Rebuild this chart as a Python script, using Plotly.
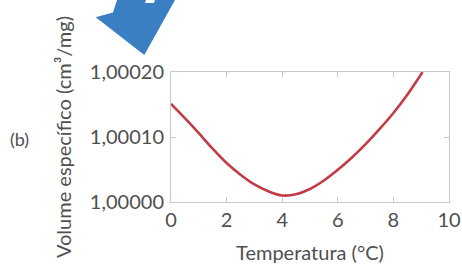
import plotly.graph_objects as go

# Data
temperatura = [0, 0.5, 1, 1.5, 2, 2.5, 3, 3.5, 4, 4.5, 5, 5.5, 6, 6.5, 7, 7.5, 8, 8.5, 9.05]
volume = [1.000151, 1.000129, 1.000106, 1.000082, 1.000060, 1.000042, 1.000027,
          1.0000165, 1.000010, 1.000012, 1.000020, 1.000033, 1.0000495, 1.000068,
          1.000089, 1.000112, 1.000137, 1.000165, 1.000200]

x_ticks = [0, 2, 4, 6, 8, 10]
y_ticks = [1.00000, 1.00010, 1.00020]
y_ticktext = ["1,00000", "1,00010", "1,00020"]

W, H = 462, 264
ML, MR, MT, MB = 171, 13, 72, 62
PW, PH = W - ML - MR, H - MT - MB

def px(xp, yp):
    """pixel -> paper coords (for decoration shapes)"""
    return (xp - ML) / PW, (H - MB - yp) / PH

def path(pts):
    s = ""
    for i, (a, b) in enumerate(pts):
        u, v = px(a, b)
        s += ("M" if i == 0 else "L") + f"{u:.4f},{v:.4f} "
    return s + "Z"

FONT = "Lato"
GRAY = "#4f4f4f"
FRAME = "#c9c9c9"

fig = go.Figure()
fig.add_trace(go.Scatter(
    x=temperatura, y=volume, mode="lines",
    line=dict(color="#c23b45", width=2.6, shape="spline", smoothing=1.0),
    hoverinfo="skip", showlegend=False,
))

fig.update_layout(
    width=W, height=H,
    margin=dict(l=ML, r=MR, t=MT, b=MB, pad=0, autoexpand=False),
    paper_bgcolor="white", plot_bgcolor="white",
    font=dict(family=FONT, color=GRAY, size=20),
    xaxis=dict(
        range=[0, 10], tickvals=x_ticks, ticks="inside", ticklen=5,
        tickcolor=FRAME, showline=True, linecolor=FRAME, linewidth=1,
        mirror="ticks", showgrid=False, zeroline=False, automargin=False,
        tickfont=dict(size=20, color=GRAY),
        title=dict(text="Temperatura (°C)", font=dict(size=20, color=GRAY), standoff=16),
    ),
    yaxis=dict(
        range=[1.0, 1.0002], tickvals=y_ticks, ticktext=y_ticktext,
        ticks="inside", ticklen=5, tickcolor=FRAME, showline=True,
        linecolor=FRAME, linewidth=1, mirror="ticks", showgrid=False,
        zeroline=False, automargin=False, ticklabelstandoff=2,
        tickfont=dict(size=20, color=GRAY),
        title=dict(text="Volume específico (cm³/mg)", font=dict(size=20, color=GRAY), standoff=12),
    ),
    shapes=[
        dict(type="path", xref="paper", yref="paper", layer="above",
             path=path([(95.7, 17.3), (113, 12.5), (117, 0), (175, 0), (144.3, 55)]),
             fillcolor="#3a7fc1", line=dict(width=0)),
        dict(type="path", xref="paper", yref="paper", layer="above",
             path=path([(146, 0), (155, 0), (154, 3), (145, 3)]),
             fillcolor="white", line=dict(width=0)),
    ],
    annotations=[
        dict(text="(b)", xref="paper", yref="paper", x=px(19, 139)[0], y=px(19, 139)[1],
             showarrow=False, font=dict(size=18, color=GRAY), xanchor="center", yanchor="middle"),
    ],
)

fig.write_html("out.html", config={"displayModeBar": False},
               post_script="document.body.style.margin='0px';")
